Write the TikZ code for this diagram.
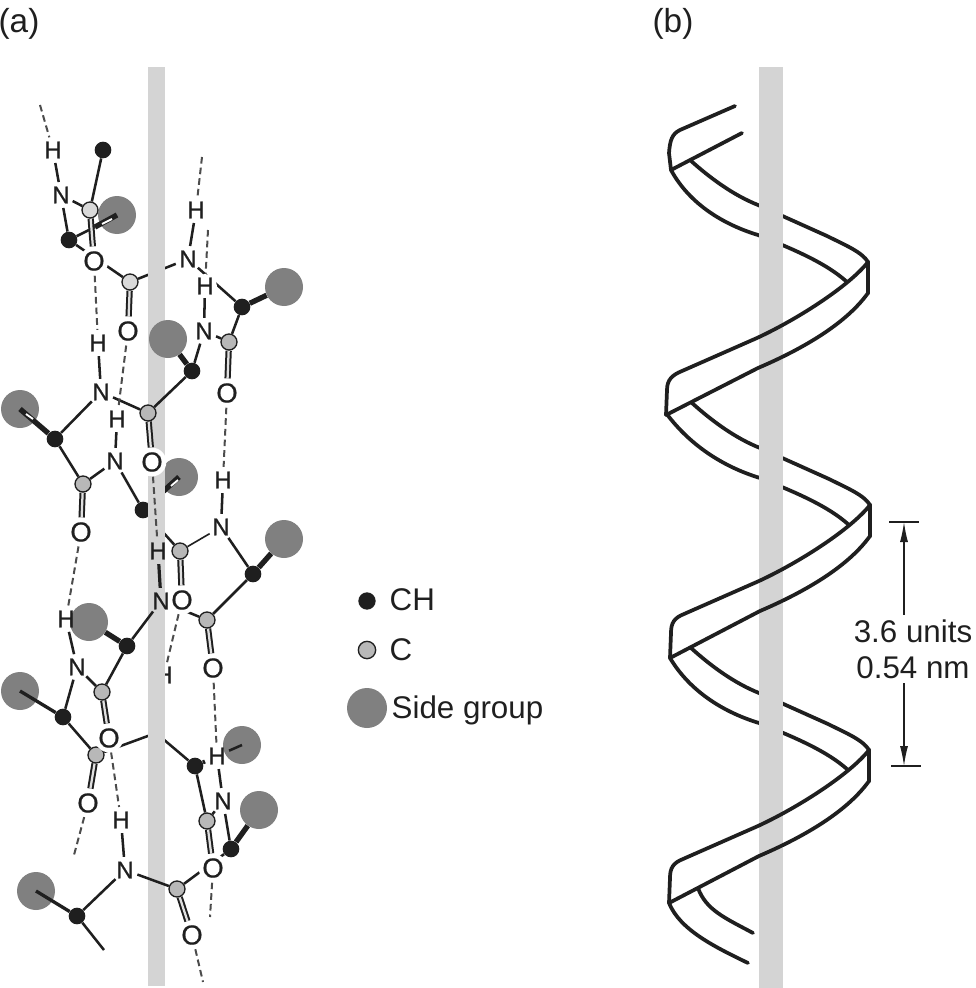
\documentclass[tikz,border=0pt]{standalone}
\usepackage{fontspec}
\setmainfont{Liberation Sans}
\newfontfamily\atomfont[FakeBold=0.6]{Liberation Sans}
\usetikzlibrary{arrows.meta}
\pgfdeclarelayer{back}
\pgfdeclarelayer{rod}
\pgfdeclarelayer{front}
\pgfsetlayers{back,rod,front,main}
\colorlet{ink}{black!88}
\begin{document}
\begin{tikzpicture}[x=0.75pt,y=-0.75pt,>={Latex[length=15pt,width=6pt]},
        chatom/.style={circle, fill=ink, inner sep=0pt, minimum size=12.5pt},
        catom/.style={circle, draw=ink, line width=1pt, fill=black!28, inner sep=0pt, minimum size=12pt},
        oatom/.style={circle, fill=white, text=ink, inner sep=0pt, minimum size=13pt, font=\atomfont\fontsize{20.5}{20.5}\selectfont},
        lab/.style={circle, text=ink, inner sep=0.5pt, font=\atomfont\fontsize{18}{18}\selectfont},
        sidegrp/.style={circle, fill=black!50, inner sep=0pt, minimum size=28.5pt},
        bond/.style={draw=ink, line width=1.9pt},
        fatbond/.style={draw=ink, line width=4pt},
        dblbond/.style={draw=ink, line width=1.5pt, double=black!12, double distance=1.7pt},
        hbond/.style={draw=black!70, line width=1.5pt, dash pattern=on 5pt off 3pt},
        ribbon/.style={draw=ink, line width=2.8pt, line cap=round, line join=round},
        slot/.style={draw=white, line width=1.4pt},
        txt/.style={text=ink, font=\fontsize{23.5}{27}\selectfont}]
        \useasboundingbox (0,0) rectangle (975,988);
        % rods
        \begin{pgfonlayer}{rod}
        \fill[black!17] (148,67) rectangle (165,986);
        \fill[black!17] (759,67) rectangle (783,988);
        \end{pgfonlayer}
        % side groups and atoms that lie under the rod
        \begin{pgfonlayer}{back}
        \node[sidegrp] (sg1) at (117,215) {};
        \node[sidegrp] (sg3) at (284,287) {};
        \node[sidegrp] (sg5) at (20,409) {};
        \node[sidegrp] (sg6) at (179,477) {};
        \node[sidegrp] (sg7) at (284,539) {};
        \node[sidegrp] (sg8) at (89,622) {};
        \node[sidegrp] (sg9) at (20,691) {};
        \node[sidegrp] (sg10) at (242,745) {};
        \node[sidegrp] (sg11) at (259,810) {};
        \node[sidegrp] (sg13) at (36,891) {};
        \node[chatom] (ch6) at (143,510) {};
        \node[lab] (h9) at (164,675) {H};
        \end{pgfonlayer}
        \begin{pgfonlayer}{front}
        \node[sidegrp] (sg4) at (168,339) {};
        \end{pgfonlayer}
        % atoms
        \node[lab] (h1) at (53,150) {H};
        \node[lab] (n1) at (61,195) {N};
        \node[catom,fill=black!15] (c1) at (90,210) {};
        \node[chatom] (ch0) at (103,150) {};
        \node[chatom] (ch1) at (69,240) {};
        \node[oatom] (o1) at (94,261) {O};
        \node[catom,fill=black!15] (c2) at (130,282) {};
        \node[oatom] (o2) at (128,331) {O};
        \node[lab] (n2) at (188,259) {N};
        \node[lab] (h2) at (196,210) {H};
        \node[lab,fill=white,inner sep=0pt] (h3) at (205,286) {H};
        \node[lab] (n3) at (204,331) {N};
        \node[catom] (c3) at (229,342) {};
        \node[chatom] (ch3) at (242,307) {};
        \node[oatom] (o3) at (227,393) {O};
        \node[chatom] (ch4) at (192,371) {};
        \node[lab] (h4) at (98,343) {H};
        \node[lab] (n4) at (101,392) {N};
        \node[chatom] (ch5) at (55,439) {};
        \node[catom] (c4) at (148,413) {};
        \node[oatom] (o4) at (152,462) {O};
        \node[lab] (h5) at (117,419) {H};
        \node[lab] (n5) at (115,461) {N};
        \node[catom] (c5) at (83,484) {};
        \node[oatom] (o5) at (81,532) {O};
        \node[catom] (c6) at (180,551) {};
        \node[lab] (n6) at (221,527) {N};
        \node[lab] (h6) at (223,480) {H};
        \node[chatom] (ch7) at (253,574) {};
        \node[oatom] (o6) at (182,600) {O};
        \node[lab] (h7) at (158,551) {H};
        \node[lab] (n7) at (161,601) {N};
        \node[catom] (c7) at (207,620) {};
        \node[oatom] (o7) at (213,668) {O};
        \node[chatom] (ch8) at (127,646) {};
        \node[lab] (h8) at (66,619) {H};
        \node[lab] (n8) at (77,667) {N};
        \node[catom] (c8) at (102,692) {};
        \node[chatom] (ch9) at (63,717) {};
        \node[catom] (c9) at (96,755) {};
        \node[oatom] (o9) at (88,803) {O};
        \node[oatom] (o8) at (109,738) {O};
        \node[chatom] (ch10) at (195,766) {};
        \node[lab] (h10) at (217,756) {H};
        \node[lab] (n10) at (223,801) {N};
        \node[catom] (c10) at (207,821) {};
        \node[chatom] (ch11) at (231,849) {};
        \node[oatom] (o10) at (213,868) {O};
        \node[lab] (n12) at (125,870) {N};
        \node[lab] (h12) at (121,820) {H};
        \node[catom] (c12) at (177,889) {};
        \node[oatom] (o12) at (192,935) {O};
        \node[chatom] (ch13) at (77,916) {};
        \coordinate (e0) at (40,105);
        \coordinate (e2) at (202,157);
        \coordinate (e3) at (208,230);
        \coordinate (e9) at (74,855);
        \coordinate (e10) at (210,917);
        \coordinate (e12) at (203,982);
        \coordinate (e13) at (104,950);
        \coordinate (k1) at (156,733);
        \coordinate (w1) at (95,227);
        % bonds that pass behind the rod
        \begin{pgfonlayer}{back}
        \draw[bond] (c2) -- (n2);
        \draw[bond] (ch6) -- (c6);
        \draw[bond] (ch6) -- (n5);
        \draw[fatbond] (ch6) -- (sg6.center);
        \draw[slot] (171,486) -- (178,480);
        \draw[bond] (c9) -- (k1) -- (ch10);
        \draw[hbond] (o6) -- (h9);
        \end{pgfonlayer}
        \begin{pgfonlayer}{front}
        \draw[bond] (h1) -- (n1);
        \draw[bond] (n1) -- (c1);
        \draw[bond] (n1) -- (ch1);
        \draw[bond] (c1) -- (ch0);
        \draw[bond] (ch1) -- (w1);
        \draw[fatbond] (w1) -- (sg1.center);
        \draw[slot] (102,224) -- (112,219);
        \draw[white,line width=4pt] (c1) -- (o1);
        \draw[dblbond] (c1) -- (o1);
        \draw[bond] (ch1) -- (c2);
        \draw[dblbond] (c2) -- (o2);
        \draw[bond] (n2) -- (h2);
        \draw[bond] (n2) -- (ch3);
        \draw[bond] (h3) -- (n3);
        \draw[bond] (n3) -- (c3);
        \draw[bond] (c3) -- (ch3);
        \draw[fatbond] (ch3) -- (sg3);
        \draw[dblbond] (c3) -- (o3);
        \draw[bond] (n3) -- (ch4);
        \draw[fatbond] (ch4) -- (sg4);
        \draw[bond] (ch4) -- (c4);
        \draw[dblbond] (c4) -- (o4);
        \draw[bond] (c4) -- (n4);
        \draw[bond] (n4) -- (h4);
        \draw[bond] (n4) -- (ch5);
        \draw[fatbond] (ch5) -- (sg5.center);
        \draw[slot] (26,414) -- (33,419);
        \draw[bond] (ch5) -- (c5);
        \draw[bond] (c5) -- (n5);
        \draw[bond] (n5) -- (h5);
        \draw[dblbond] (c5) -- (o5);
        \draw[bond,line width=1.2pt] (c6) -- (n6);
        \draw[dblbond] (c6) -- (o6);
        \draw[bond] (n6) -- (h6);
        \draw[bond] (n6) -- (ch7);
        \draw[fatbond] (ch7) -- (sg7);
        \draw[bond] (ch7) -- (c7);
        \draw[bond] (c7) -- (n7);
        \draw[dblbond] (c7) -- (o7);
        \draw[bond,line width=2.4pt] (n7) -- (h7);
        \draw[bond] (n7) -- (ch8);
        \draw[fatbond] (ch8) -- (sg8);
        \draw[bond] (ch8) -- (c8);
        \draw[bond] (c8) -- (n8);
        \draw[bond] (n8) -- (h8);
        \draw[bond] (n8) -- (ch9);
        \draw[fatbond,line width=2.5pt] (ch9) -- (sg9.center);
        \draw[bond] (ch9) -- (c9);
        \draw[dblbond] (c8) -- (o8);
        \draw[dblbond] (c9) -- (o9);
        \draw[fatbond,line width=3pt] (ch10) -- (h10);
        \draw[bond] (h10) -- (sg10.center);
        \draw[bond] (ch10) -- (c10);
        \draw[dblbond] (c10) -- (o10);
        \draw[bond] (c10) -- (n10);
        \draw[bond] (n10) -- (h10);
        \draw[bond] (n10) -- (ch11);
        \draw[fatbond] (ch11) -- (sg11);
        \draw[bond] (ch11) -- (c12);
        \draw[dblbond] (c12) -- (o12);
        \draw[bond] (c12) -- (n12);
        \draw[bond] (n12) -- (h12);
        \draw[bond] (n12) -- (ch13);
        \draw[fatbond,line width=2.5pt] (ch13) -- (sg13.center);
        \draw[bond] (ch13) -- (e13);
        % hydrogen bonds
        \draw[hbond] (e0) -- (h1);
        \draw[hbond] (e2) -- (h2);
        \draw[hbond] (e3) -- (h3);
        \draw[hbond] (o1) -- (h4);
        \draw[hbond] (o2) -- (h5);
        \draw[hbond] (o3) -- (h6);
        \draw[hbond] (o4) -- (h7);
        \draw[hbond] (o5) -- (h8);
        \draw[hbond] (o7) -- (h10);
        \draw[hbond] (o8) -- (h12);
        \draw[hbond] (o9) -- (e9);
        \draw[hbond] (o10) -- (e10);
        \draw[hbond] (o12) -- (e12);
        \end{pgfonlayer}
        % legend
        \node[chatom,minimum size=13pt] (kch) at (367,601) {};
        \node[catom,minimum size=13pt] (kc) at (367,650) {};
        \node[sidegrp,minimum size=30pt] (ksg) at (367,708) {};
        \node[txt,anchor=west] (tch) at (385,600) {CH};
        \node[txt,anchor=west] (tc) at (385,650) {C};
        \node[txt,anchor=west] (tsg) at (387,710) {Side group};
        \node[txt,font=\fontsize{25}{27}\selectfont] (pa) at (19,24) {(a)};
        \node[txt,font=\fontsize{25}{27}\selectfont] (pb) at (673,24) {(b)};
        % ribbon, one turn at a time
        \foreach \dx/\dy/\lx/\bx in {0/0/666/671,2/243/668/664,1/488/668/669} {
            \begin{scope}[shift={(\dx,\dy)}]
            \begin{pgfonlayer}{back}
            \draw[ribbon] (\bx,170) .. controls (690,205) and (725,225) .. (758,235) .. controls (790,248) and (825,262) .. (847,282);
            \draw[ribbon] (690,160) .. controls (710,178) and (733,195) .. (758,205) -- (827,236) .. controls (845,245) and (862,252) .. (868,262);
            \end{pgfonlayer}
            \begin{pgfonlayer}{front}
            \draw[ribbon] (868,262) -- (868,293);
            \draw[ribbon] (868,262) .. controls (850,285) and (800,318) .. (757,338) -- (682,371) .. controls (672,375) and (\lx+1,380) .. (\lx+1,390) -- (\lx,415);
            \draw[ribbon] (868,293) .. controls (845,325) and (800,350) .. (758,368) -- (\lx,415);
            \end{pgfonlayer}
            \end{scope}
        }
        \draw[ribbon] (735,106) -- (680,130) .. controls (672,134) and (670,140) .. (669,153) -- (671,170);
        \draw[ribbon] (742,133) -- (671,170);
        \draw[ribbon] (669,903) .. controls (680,930) and (715,947) .. (748,963);
        \draw[ribbon] (698,888) .. controls (706,910) and (725,918) .. (753,933);
        % repeat length
        \coordinate (dt) at (904,522);
        \coordinate (db) at (904,766);
        \node[txt,align=center] (dlab) at (913,649) {3.6 units\\0.54 nm};
        \draw[ink,line width=1.1pt] ([xshift=-15*0.75pt]dt) -- ([xshift=15*0.75pt]dt);
        \draw[ink,line width=1.1pt] ([xshift=-13*0.75pt]db) -- ([xshift=17*0.75pt]db);
        \draw[->,ink,line width=0.9pt] (dlab.north -| dt) -- (dt);
        \draw[->,ink,line width=0.9pt] (dlab.south -| db) -- (db);
    \end{tikzpicture}
\end{document}
